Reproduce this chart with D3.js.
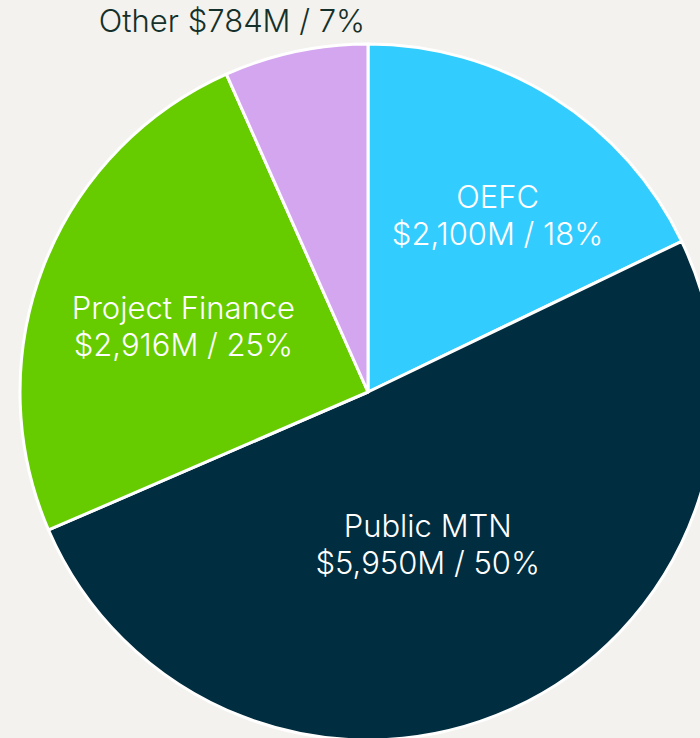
<!DOCTYPE html>
<html>
	<head>
		<meta charset="utf-8">
		<script src="https://cdn.jsdelivr.net/npm/d3@7"></script>
		<title>Funding Mix Pie</title>
		<style>
			html, body { margin:0; padding:0; background:#f3f2ee; }
			svg { display:block; }
			text { font-family: Inter, "Liberation Sans", sans-serif; font-weight:300; }
		</style>
	</head>
	<body>
		<div id="chart"></div>
		<script type="text/javascript" charset="utf-8">
			var categories = ["OEFC", "Public MTN", "Project Finance", "Other"];
			var amounts = [2100, 5950, 2916, 784];          // $M
			var shares = [18, 50, 25, 7];                    // % as labelled
			var colors = ["#33ccff", "#002d3f", "#66cc00", "#d5a6f0"];

			var width = 700, height = 738,
				cx = 368, cy = 392, radius = 348;

			// label nudges so text sits where the original placed it
			var labelPos = {
				"OEFC":            { r: 219, da: 4.1 },
				"Public MTN":      { r: 163, da: 3.0 },
				"Project Finance": { r: 196, da: -1.7 }
			};

			var data = categories.map(function(c, i){
				return { name: c, value: amounts[i], share: shares[i], color: colors[i] };
			});

			var svg = d3.select("#chart").append("svg")
				.attr("width", width)
				.attr("height", height);

			var pie = d3.pie()
				.sort(null)
				.value(function(d){ return d.value; });

			var arc = d3.arc().innerRadius(0).outerRadius(radius);
			var fmt = d3.format(",d");

			var g = svg.append("g").attr("transform", "translate(" + cx + "," + cy + ")");
			var arcs = pie(data);

			g.selectAll("path")
				.data(arcs)
				.enter().append("path")
				.attr("d", arc)
				.attr("fill", function(d){ return d.data.color; })
				.attr("stroke", "#ffffff")
				.attr("stroke-width", 3)
				.attr("stroke-linejoin", "round");

			var inside = arcs.filter(function(d){ return labelPos[d.data.name]; });
			var lbl = g.selectAll("g.lbl")
				.data(inside)
				.enter().append("g")
				.attr("class", "lbl")
				.attr("transform", function(d){
					var p = labelPos[d.data.name];
					var a = (d.startAngle + d.endAngle) / 2 + p.da * Math.PI / 180;
					return "translate(" + (p.r * Math.sin(a)) + "," + (-p.r * Math.cos(a)) + ")";
				});
			lbl.append("text")
				.attr("text-anchor", "middle")
				.attr("y", -7)
				.attr("fill", "#ffffff")
				.style("font-size", "31px")
				.text(function(d){ return d.data.name; });
			lbl.append("text")
				.attr("text-anchor", "middle")
				.attr("y", 30)
				.attr("fill", "#ffffff")
				.style("font-size", "31px")
				.text(function(d){ return "$" + fmt(d.data.value) + "M / " + d.data.share + "%"; });

			// small slice labelled outside, above the pie
			var other = arcs[3];
			svg.append("text")
				.attr("x", 232)
				.attr("y", 32)
				.attr("text-anchor", "middle")
				.attr("fill", "#15302a")
				.style("font-size", "31px")
				.text(other.data.name + " $" + fmt(other.data.value) + "M / " + other.data.share + "%");
		</script>
	</body>
</html>
